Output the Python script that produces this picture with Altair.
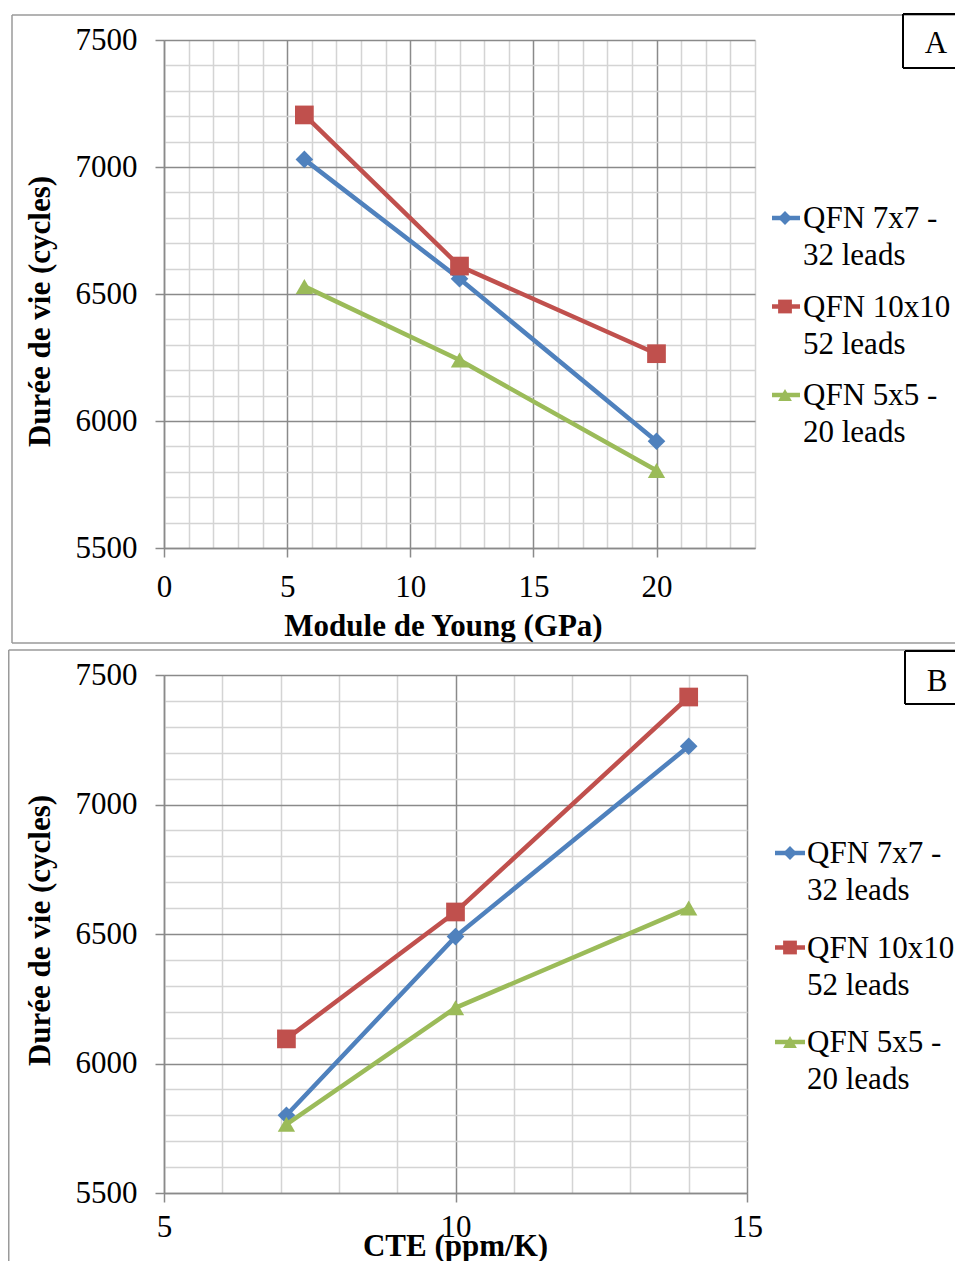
import altair as alt
import pandas as pd

FONT = "Liberation Serif"
SERIES = ["QFN 7x7 - 32 leads", "QFN 10x10 - 52 leads", "QFN 5x5 - 20 leads"]
COLORS = ["#4f81bd", "#c0504d", "#9bbb59"]
SHAPES = ["diamond", "square", "triangle-up"]
SIZES = [310, 350, 300]

# Panel A : Module de Young
young_gpa = [5.7, 12.0, 20.0]
young_qfn7 = [7030, 6560, 5920]
young_qfn10 = [7205, 6610, 6265]
young_qfn5 = [6530, 6240, 5805]

# Panel B : CTE
cte_ppm = [7.1, 10.0, 14.0]
cte_qfn7 = [5800, 6490, 7225]
cte_qfn10 = [6095, 6585, 7415]
cte_qfn5 = [5765, 6215, 6600]

legend_a = [["QFN 7x7 -", "32 leads"], ["QFN 10x10 -", "52 leads"], ["QFN 5x5 -", "20 leads"]]
legend_b = [["QFN 7x7 -", "32 leads"], ["QFN 10x10-", "52 leads"], ["QFN 5x5 -", "20 leads"]]

Y_TICKS = list(range(5500, 7501, 100))
MAJ = "#8a8a8a"
MIN = "#d4d4d4"
FRAME = "#9a9a9a"

one = pd.DataFrame({"k": [0]})


def hrule(x1, x2, y, color, w):
    return alt.Chart(one).mark_rule(color=color, strokeWidth=w).encode(
        x=alt.value(x1), x2=alt.value(x2), y=alt.value(y))


def vrule(x, y1, y2, color, w):
    return alt.Chart(one).mark_rule(color=color, strokeWidth=w).encode(
        x=alt.value(x), y=alt.value(y1), y2=alt.value(y2))


def cond(test, a, b):
    return {"condition": {"test": test, "value": a}, "value": b}


def panel(xs, ys_list, xdom, xmaj, xtitle, W, H, g, legend_lines, letter):
    rows = []
    for name, ys in zip(SERIES, ys_list):
        for xv, yv in zip(xs, ys):
            rows.append({"series": name, "x": xv, "y": yv})
    df = pd.DataFrame(rows)

    xt = f"datum.value % {xmaj} === 0"
    yt = "datum.value % 500 === 0"
    xaxis = alt.Axis(
        values=list(range(xdom[0], xdom[1] + 1)), format="d",
        labelExpr=f"{xt} ? datum.label : ''",
        grid=True, gridColor=cond(xt, MAJ, MIN),
        tickOpacity=cond(xt, 1, 0), tickSize=9, labelPadding=g["xlp"],
        labelFlush=False, labelOverlap=False,
        title=xtitle, titleX=g["xtx"], titleY=g["xty"],
        titleBaseline="alphabetic", titleAlign="center")
    yaxis = alt.Axis(
        values=Y_TICKS, format="d",
        labelExpr=f"{yt} ? datum.label : ''",
        grid=True, gridColor=cond(yt, MAJ, MIN),
        tickOpacity=cond(yt, 1, 0), tickSize=9, labelPadding=18,
        labelOverlap=False,
        title="Durée de vie (cycles)", titleAngle=270,
        titleX=-115, titleY=g["yty"],
        titleBaseline="alphabetic", titleAlign="center")
    X = alt.X("x:Q", scale=alt.Scale(domain=xdom, nice=False, zero=False), axis=xaxis)
    Y = alt.Y("y:Q", scale=alt.Scale(domain=[5500, 7500], nice=False, zero=False), axis=yaxis)

    layers = []
    # outer frame (right side runs off the page)
    fl, ft, fb = g["frame"]
    layers.append(hrule(fl, 810, ft, FRAME, 1.5))
    layers.append(vrule(fl, ft, fb, FRAME, 1.5))
    if g["frame_bottom"]:
        layers.append(hrule(fl, 810, fb, FRAME, 1.5))

    for name, c, shp, sz in zip(SERIES, COLORS, SHAPES, SIZES):
        sub = alt.Chart(df).transform_filter(alt.datum.series == name)
        layers.append(sub.mark_line(color=c, strokeWidth=4.5).encode(x=X, y=Y))
        layers.append(sub.mark_point(shape=shp, filled=True, size=sz, color=c,
                                     opacity=1).encode(x=X, y=Y))

    # legend
    for i, (lines, c, shp) in enumerate(zip(legend_lines, COLORS, SHAPES)):
        by = g["leg_y0"] + i * g["leg_dy"]
        layers.append(hrule(g["sx1"], g["sx2"], by - 10, c, 4.5))
        layers.append(alt.Chart(one).mark_point(shape=shp, filled=True, size=190, color=c,
                                                opacity=1).encode(
            x=alt.value(g["sm"]), y=alt.value(by - 10)))
        layers.append(alt.Chart(one).mark_text(
            text=lines, align="left", baseline="alphabetic", font=FONT, fontSize=31,
            lineHeight=37, color="black").encode(x=alt.value(g["tx"]), y=alt.value(by)))

    # label box
    bl, bt, bb = g["box"]
    layers.append(hrule(bl, 810, bt, "black", 2))
    layers.append(hrule(bl, 810, bb, "black", 2))
    layers.append(vrule(bl, bt, bb, "black", 2))
    layers.append(alt.Chart(one).mark_text(
        text=letter, align="center", baseline="alphabetic", font=FONT, fontSize=31,
        color="black").encode(x=alt.value(g["lx"]), y=alt.value(g["ly"])))

    return alt.layer(*layers).properties(width=W, height=H)


geo_a = dict(xtx=279, xty=87, xlp=15, yty=271, frame=(-152, -25, 603), frame_bottom=True,
             leg_y0=188, leg_dy=88.5, sx1=608, sx2=636, sm=621, tx=639,
             box=(739, -26, 28), lx=772, ly=13)
geo_b = dict(xtx=291, xty=62, xlp=10, yty=255, frame=(-155.25, -25, 600), frame_bottom=False,
             leg_y0=188, leg_dy=94.5, sx1=611, sx2=641, sm=626, tx=643,
             box=(741, -24, 29), lx=773, ly=16)

pa = panel(young_gpa, [young_qfn7, young_qfn10, young_qfn5], [0, 24], 5,
           "Module de Young (GPa)", 591, 508, geo_a, legend_a, "A")
pb = panel(cte_ppm, [cte_qfn7, cte_qfn10, cte_qfn5], [5, 15], 5,
           "CTE (ppm/K)", 583, 518, geo_b, legend_b, "B")

chart = alt.vconcat(pa, pb, spacing=5).properties(
    padding={"left": 0, "top": 5, "right": -20, "bottom": -15}
).configure_axis(
    labelFont=FONT, labelFontSize=31, labelColor="black",
    titleFont=FONT, titleFontSize=31, titleFontWeight="bold", titleColor="black",
    domainColor=MAJ, domainWidth=1.5, tickColor=MAJ, tickWidth=1.5,
    gridWidth=1.5, gridOpacity=1
).configure_view(stroke=None)

chart.save("out.html", embed_options={"renderer": "svg", "actions": False})
